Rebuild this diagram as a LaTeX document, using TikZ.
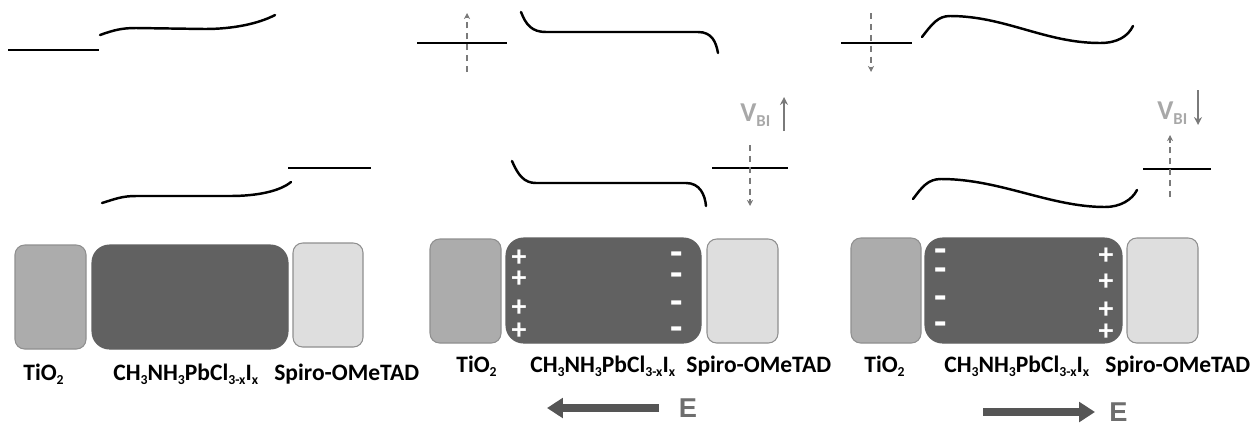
\documentclass[tikz,border=0pt]{standalone}
\usepackage{fontspec}
\setmainfont{Carlito}
\newfontfamily\arialish{Liberation Sans}
\usetikzlibrary{arrows.meta}
\definecolor{boxdark}{HTML}{616161}
\definecolor{boxmid}{HTML}{ACACAC}
\definecolor{boxlight}{HTML}{DEDEDE}
\definecolor{boxedge}{HTML}{8F8F8F}
\definecolor{dashgray}{HTML}{7A7A7A}
\definecolor{vbigray}{HTML}{A8A8A8}
\definecolor{egray}{HTML}{6E6E6E}
\definecolor{earrow}{HTML}{555555}
\newcommand\lowsub[1]{\raisebox{-2.6pt}{\fontsize{7.8}{8}\selectfont #1}}
\newcommand\vsub[1]{\raisebox{-3pt}{\fontsize{9.5}{10}\selectfont #1}}
\tikzset{
  band/.style={line width=1.4pt, line cap=round},
  levelline/.style={line width=1.4pt},
  dasharr/.style={draw=dashgray, line width=1.1pt, dash pattern=on 3.6pt off 2.6pt, -{Stealth[length=3.5pt,width=3.5pt]}},
  vbiarrow/.style={draw=dashgray, line width=1.3pt, -{Stealth[length=4.5pt,width=4.5pt]}},
  tiobox/.style={fill=boxmid, draw=boxedge, line width=0.6pt, rounded corners=5.5pt},
  perobox/.style={fill=boxdark, draw=boxdark, line width=0.6pt, rounded corners=10pt},
  spirobox/.style={fill=boxlight, draw=boxedge, line width=0.6pt, rounded corners=5.5pt},
  lab/.style={font=\fontsize{13.4}{16}\selectfont\bfseries, inner sep=0pt, anchor=base west},
  charge/.style={font=\fontsize{17}{11pt}\selectfont\bfseries, text=white, inner sep=0pt, align=center},
  minuscharge/.style={font=\fontsize{23}{11pt}\selectfont\bfseries, text=white, inner sep=0pt, align=center},
  vbi/.style={font=\fontsize{15.5}{18}\selectfont\bfseries, text=vbigray, inner sep=0pt},
  efield/.style={font=\arialish\fontsize{15.5}{20}\selectfont\bfseries, text=egray, inner sep=0pt},
  earr/.style={draw=earrow, line width=4pt, -{Triangle[length=9pt,width=11pt]}},
}
\begin{document}
\begin{tikzpicture}[x=0.02cm, y=-0.02cm]
\useasboundingbox (0,0) rectangle (1256,427);

%%%%%%%%%%%%%%%% LEFT PANEL %%%%%%%%%%%%%%%%
\draw[levelline] (8,50) -- (99,50);
\draw[band] (100,35) .. controls (114,30) and (122,28) .. (136,28) -- (205,29) .. controls (232,29) and (258,24) .. (275,15);
\draw[levelline] (288,168) -- (371,168);
\draw[band] (102,203) .. controls (115,199) and (122,196) .. (136,196) -- (230,196) .. controls (258,196) and (280,191) .. (291,182);

\draw[tiobox] (15,245) rectangle (86,349);
\draw[perobox] (92,245) rectangle (288,349);
\draw[spirobox] (293,243) rectangle (363,347);

\node[lab] (l1) at (23,380) {TiO\lowsub{2}};
\node[lab] (l2) at (113,380) {CH\lowsub{3}NH\lowsub{3}PbCl\lowsub{3-x}I\lowsub{x}};
\node[lab] (l3) at (274,380) {Spiro-OMeTAD};

%%%%%%%%%%%%%%%% MIDDLE PANEL %%%%%%%%%%%%%%%%
\draw[levelline] (417,43) -- (507,43);
\coordinate (m1a) at (467,72);
\coordinate (m1b) at (467,13);
\draw[dasharr] (m1a) -- (m1b);
\draw[band] (521,12) .. controls (526,25) and (532,32) .. (546,32) -- (698,32) .. controls (712,32) and (716,42) .. (718,53);

\node[vbi, anchor=west] (mv) at (740,115) {V\vsub{BI}};
\coordinate (mva) at (784,131);
\coordinate (mvb) at (784,97);
\draw[vbiarrow] (mva) -- (mvb);

\draw[levelline] (712,168) -- (788,168);
\coordinate (m2a) at (750,145);
\coordinate (m2b) at (750,206);
\draw[dasharr] (m2a) -- (m2b);
\draw[band] (512,161) .. controls (518,175) and (524,183) .. (536,183) -- (686,183) .. controls (700,183) and (705,195) .. (706,206);

\draw[tiobox] (430,239) rectangle (501,343);
\draw[perobox] (506,238) rectangle (701,343);
\draw[spirobox] (707,239) rectangle (778,343);

\node[charge] (mplus) at (519,295) {+\\[0.9pt]+\\[5.4pt]+\\[2pt]+};
\node[minuscharge] (mminus) at (677,296) {-\\[0.9pt]-\\[4.9pt]-\\[3.7pt]-};

\node[lab] (m1) at (456,372) {TiO\lowsub{2}};
\node[lab] (m2) at (530,372) {CH\lowsub{3}NH\lowsub{3}PbCl\lowsub{3-x}I\lowsub{x}};
\node[lab] (m3) at (686,372) {Spiro-OMeTAD};

\node[efield] (mE) at (688,408) {E};
\coordinate (mEa) at (659,408);
\coordinate (mEb) at (547,408);
\draw[earr] (mEa) -- (mEb);

%%%%%%%%%%%%%%%% RIGHT PANEL %%%%%%%%%%%%%%%%
\draw[levelline] (841,43) -- (912,43);
\coordinate (r1a) at (871,13);
\coordinate (r1b) at (871,72);
\draw[dasharr] (r1a) -- (r1b);
\draw[band] (922,37) .. controls (932,24) and (938,16) .. (950,16) .. controls (1005,16) and (1045,43) .. (1100,43) .. controls (1118,43) and (1128,36) .. (1133,26);

\node[vbi, anchor=west] (rv) at (1157,113) {V\vsub{BI}};
\coordinate (rva) at (1198,90);
\coordinate (rvb) at (1198,125);
\draw[vbiarrow] (rva) -- (rvb);

\draw[levelline] (1143,169) -- (1211,169);
\coordinate (r2a) at (1170,197);
\coordinate (r2b) at (1170,135);
\draw[dasharr] (r2a) -- (r2b);
\draw[band] (913,199) .. controls (922,187) and (928,179) .. (941,179) .. controls (1000,179) and (1050,207) .. (1105,207) .. controls (1120,207) and (1132,200) .. (1137,190);

\draw[tiobox] (851,238) rectangle (921,343);
\draw[perobox] (925,238) rectangle (1122,343);
\draw[spirobox] (1127,238) rectangle (1198,343);

\node[minuscharge] (rminus) at (941,292) {-\\[0.3pt]-\\[4.9pt]-\\[3.7pt]-};
\node[charge] (rplus) at (1106,294) {+\\[3.7pt]+\\[4.9pt]+\\[1.5pt]+};

\node[lab] (r1) at (864,372) {TiO\lowsub{2}};
\node[lab] (r2) at (944,372) {CH\lowsub{3}NH\lowsub{3}PbCl\lowsub{3-x}I\lowsub{x}};
\node[lab] (r3) at (1105,372) {Spiro-OMeTAD};

\node[efield, anchor=west] (rE) at (1109,412) {E};
\coordinate (rEa) at (983,412);
\coordinate (rEb) at (1095,412);
\draw[earr] (rEa) -- (rEb);
\end{tikzpicture}
\end{document}
